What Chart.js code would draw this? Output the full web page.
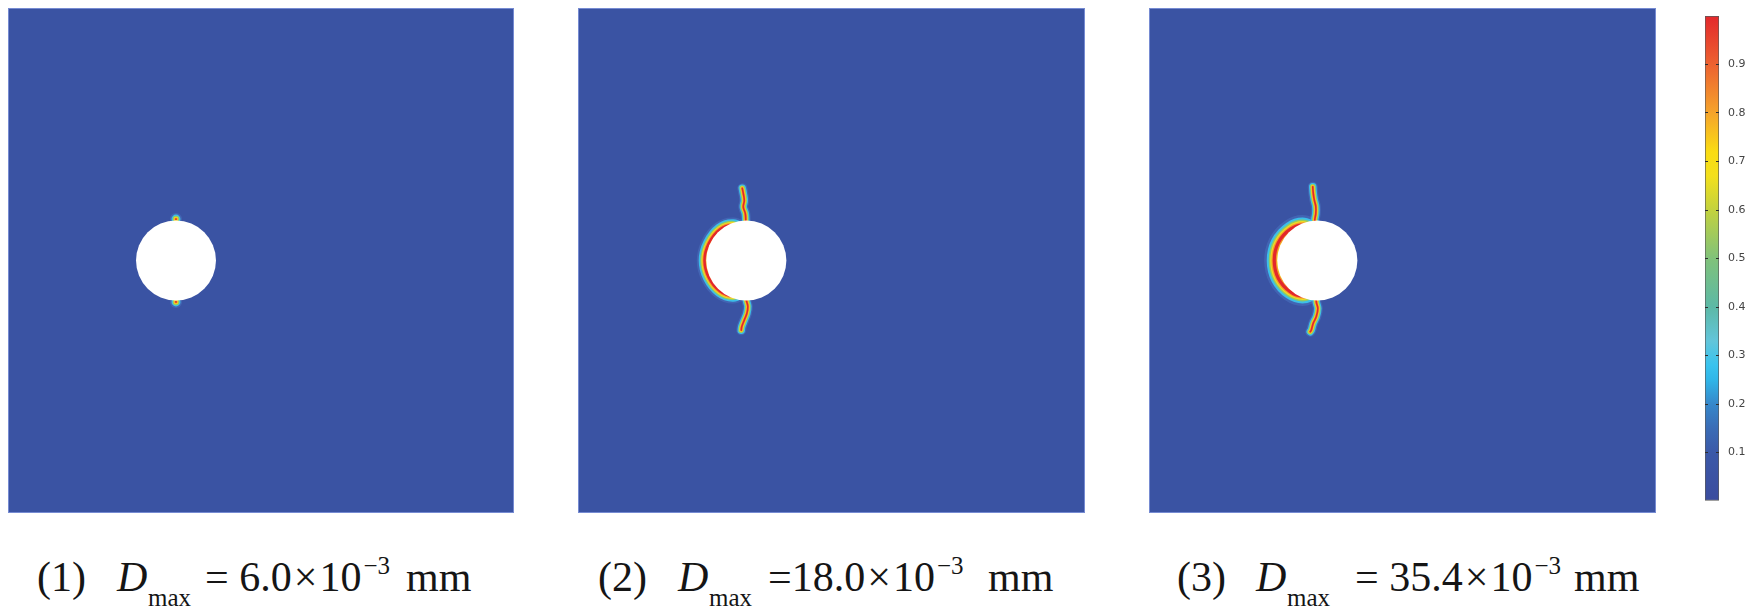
<!DOCTYPE html>
<html>
<head>
<meta charset="utf-8">
<script src="https://cdn.jsdelivr.net/npm/chart.js@4.4.1/dist/chart.umd.min.js"></script>
<style>
  body { margin: 0; background: #fff; width: 1755px; height: 610px; position: relative; overflow: hidden; }
  canvas { position: absolute; }
  .cap { position: absolute; top: 556px; left: 0; font-family: "Liberation Serif", "Times New Roman", serif; font-size: 42px; line-height: 42px; color: #151515; white-space: nowrap; }
  .cap > span { position: absolute; top: 0; }
  .cap .sub { font-size: 25px; line-height: 25px; top: 29px; }
  .cap .sup { font-size: 25px; position: relative; top: -17px; margin-left: 2px; }
  .cap .x { margin: 0 2px; }
</style>
</head>
<body>
<canvas id="p1" width="506" height="505" style="left:8px;top:8px"></canvas>
<canvas id="p2" width="507" height="505" style="left:578px;top:8px"></canvas>
<canvas id="p3" width="507" height="505" style="left:1149px;top:8px"></canvas>
<canvas id="cbar" width="55" height="520" style="left:1700px;top:0px"></canvas>

<div class="cap">
  <span style="left:37px">(1)</span>
  <span style="left:117px"><i>D</i></span><span class="sub" style="left:148px">max</span>
  <span style="left:205px">= 6.0<span class="x">×</span>10<span class="sup">−3</span></span>
  <span style="left:406px">mm</span>
</div>
<div class="cap">
  <span style="left:598px">(2)</span>
  <span style="left:678px"><i>D</i></span><span class="sub" style="left:709px">max</span>
  <span style="left:768px">=18.0<span class="x">×</span>10<span class="sup">−3</span></span>
  <span style="left:988px">mm</span>
</div>
<div class="cap">
  <span style="left:1177px">(3)</span>
  <span style="left:1256px"><i>D</i></span><span class="sub" style="left:1287px">max</span>
  <span style="left:1355px">= 35.4<span class="x">×</span>10<span class="sup">−3</span></span>
  <span style="left:1574px">mm</span>
</div>

<script>
// plate coordinates: 0..100 in both directions, hole at one third of the width
const plateRange = [0, 100];
const holeCenter = { x: 33.2, y: 50 };
const holeRadius = 7.9;

// step 1: damage only at the top and bottom of the hole
const spots1 = [{ x: 33.2, y: 58.2 }, { x: 33.2, y: 41.8 }];

// step 2
const crackTop2 = [
  { x: 33.2, y: 56.0 }, { x: 33.1, y: 57.8 }, { x: 33.0, y: 59.3 }, { x: 32.6, y: 60.6 },
  { x: 32.8, y: 61.9 }, { x: 32.6, y: 63.3 }, { x: 32.4, y: 64.3 }
];
const crackBottom2 = [
  { x: 33.2, y: 44.0 }, { x: 33.2, y: 42.2 }, { x: 33.5, y: 40.9 }, { x: 33.3, y: 39.5 },
  { x: 32.8, y: 38.2 }, { x: 32.3, y: 36.9 }, { x: 32.2, y: 36.2 }
];
const crescent2 = [
  { x: 32.7, y: 56.0 }, { x: 30.6, y: 57.0 }, { x: 28.0, y: 56.2 }, { x: 25.8, y: 53.4 },
  { x: 24.95, y: 50.0 }, { x: 25.8, y: 46.6 }, { x: 28.0, y: 43.9 }, { x: 30.6, y: 43.0 },
  { x: 32.7, y: 44.0 }
];

// step 3
const crackTop3 = [
  { x: 32.8, y: 56.0 }, { x: 32.7, y: 58.0 }, { x: 32.9, y: 59.3 }, { x: 32.9, y: 60.7 },
  { x: 32.6, y: 62.0 }, { x: 32.4, y: 63.3 }, { x: 32.3, y: 64.6 }
];
const crackBottom3 = [
  { x: 33.0, y: 44.0 }, { x: 33.0, y: 41.8 }, { x: 33.3, y: 40.5 }, { x: 33.0, y: 38.9 },
  { x: 32.4, y: 37.6 }, { x: 32.0, y: 36.2 }, { x: 31.8, y: 35.9 }
];
const crescent3 = [
  { x: 32.7, y: 55.8 }, { x: 30.6, y: 57.0 }, { x: 27.9, y: 56.2 }, { x: 25.5, y: 53.5 },
  { x: 24.7, y: 50.0 }, { x: 25.5, y: 46.5 }, { x: 27.9, y: 43.8 }, { x: 30.6, y: 43.0 },
  { x: 32.7, y: 44.2 }
];

// colour bar
const damageRange = [0, 1];
const colorbarTicks = [0.1, 0.2, 0.3, 0.4, 0.5, 0.6, 0.7, 0.8, 0.9];

const plateBlue = '#3a53a3';
const rainbow = [
  [0.0, '#3b4c9e'], [0.1, '#3b59a8'], [0.15, '#3a6cb6'], [0.2, '#3688cb'],
  [0.25, '#30b6e8'], [0.28, '#38c3ee'], [0.33, '#62c5da'], [0.4, '#5cb9a6'],
  [0.5, '#80c27a'], [0.6, '#c3d23e'], [0.67, '#f3e01c'], [0.72, '#fadc12'],
  [0.8, '#f5a42b'], [0.9, '#ed6230'], [1.0, '#e3282c']
];

// layered strokes fake the smooth damage band: wide/cool outside, thin/hot in the middle
const crackLayers = [
  { color: 'rgba(78,122,200,0.45)', width: 10 },
  { color: '#3cbfe9', width: 7.5 },
  { color: '#93cc62', width: 5.5 },
  { color: '#f4dc1f', width: 4 },
  { color: '#f49a2b', width: 2.8 },
  { color: '#e3272b', width: 1.6 }
];

const plateBg = {
  id: 'plateBg',
  beforeDraw(chart) {
    const { ctx, chartArea: a } = chart;
    ctx.save();
    ctx.fillStyle = plateBlue;
    ctx.fillRect(a.left, a.top, a.width, a.height);
    ctx.strokeStyle = 'rgba(125,145,215,0.9)';
    ctx.lineWidth = 1;
    ctx.strokeRect(a.left + 0.5, a.top + 0.5, a.width - 1, a.height - 1);
    ctx.restore();
  }
};

function lineLayers(points, scale) {
  return crackLayers.map((l, i) => ({
    data: points,
    showLine: true,
    borderColor: l.color,
    borderWidth: l.width * scale,
    pointRadius: 0,
    tension: 0.4,
    borderCapStyle: 'round',
    borderJoinStyle: 'round',
    order: crackLayers.length - i
  }));
}

function spotLayers(points) {
  return crackLayers.map((l, i) => ({
    data: points,
    pointRadius: l.width * 0.6,
    pointBackgroundColor: l.color,
    pointBorderWidth: 0,
    order: crackLayers.length - i
  }));
}

function holeDataset() {
  const r = ctx => {
    const s = ctx.chart.scales.x;
    return s.getPixelForValue(holeCenter.x + holeRadius) - s.getPixelForValue(holeCenter.x);
  };
  return {
    data: [holeCenter],
    pointRadius: r,
    pointHoverRadius: r,
    pointBackgroundColor: '#ffffff',
    pointBorderWidth: 0,
    order: 0
  };
}

function makePanel(id, datasets) {
  return new Chart(document.getElementById(id), {
    type: 'scatter',
    data: { datasets: [...datasets, holeDataset()] },
    options: {
      responsive: false,
      animation: false,
      events: [],
      layout: { padding: 0, autoPadding: false },
      plugins: { legend: { display: false }, tooltip: { enabled: false } },
      scales: {
        x: { type: 'linear', display: false, min: plateRange[0], max: plateRange[1] },
        y: { type: 'linear', display: false, min: plateRange[0], max: plateRange[1] }
      }
    },
    plugins: [plateBg]
  });
}

makePanel('p1', spotLayers(spots1));
makePanel('p2', [
  ...lineLayers(crescent2, 1.55),
  ...lineLayers(crackTop2, 1),
  ...lineLayers(crackBottom2, 1)
]);
makePanel('p3', [
  ...lineLayers(crescent3, 2.0),
  ...lineLayers(crackTop3, 1),
  ...lineLayers(crackBottom3, 1)
]);

new Chart(document.getElementById('cbar'), {
  type: 'bar',
  data: {
    labels: ['D'],
    datasets: [{
      data: [damageRange],
      backgroundColor: ctx => {
        const chart = ctx.chart;
        if (!chart.chartArea) return null;
        const y = chart.scales.y;
        const g = chart.ctx.createLinearGradient(0, y.getPixelForValue(0), 0, y.getPixelForValue(1));
        rainbow.forEach(([v, c]) => g.addColorStop(v, c));
        return g;
      },
      borderColor: '#5a5a5a',
      borderWidth: 1,
      borderSkipped: false,
      barPercentage: 1,
      categoryPercentage: 1
    }]
  },
  options: {
    responsive: false,
    animation: false,
    events: [],
    layout: { padding: { left: 5, right: 0, top: 16, bottom: 19 } },
    plugins: { legend: { display: false }, tooltip: { enabled: false } },
    scales: {
      x: { display: false },
      y: {
        position: 'right',
        min: damageRange[0],
        max: damageRange[1],
        afterFit: scale => { scale.width = 36; },
        ticks: {
          stepSize: 0.1,
          padding: 9,
          color: '#444',
          font: { family: 'DejaVu Sans', size: 11 },
          callback: v => colorbarTicks.some(t => Math.abs(t - v) < 1e-6) ? v.toFixed(1) : ''
        },
        grid: {
          z: 1,
          drawTicks: false,
          lineWidth: 1,
          color: ctx => (ctx.tick && colorbarTicks.some(t => Math.abs(t - ctx.tick.value) < 1e-6)) ? '#2e2e2e' : 'rgba(0,0,0,0)'
        },
        border: { display: false, dash: [3, 8, 3] }
      }
    }
  }
});
</script>
</body>
</html>
